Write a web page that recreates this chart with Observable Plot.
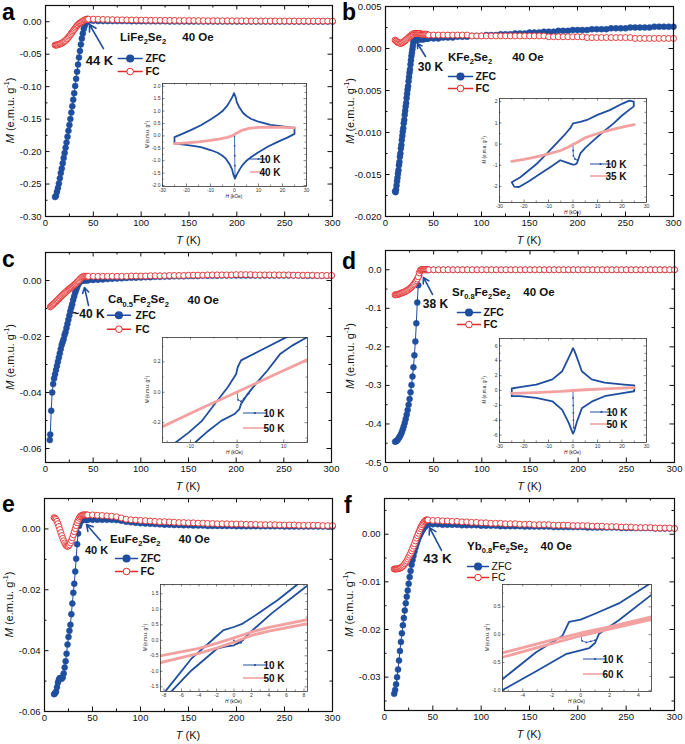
<!DOCTYPE html>
<html><head><meta charset="utf-8">
<script src="https://cdn.jsdelivr.net/npm/d3@7"></script>
<script src="https://cdn.jsdelivr.net/npm/@observablehq/plot@0.6"></script>
<style>
body{margin:0;background:#fff;}
#fig{position:relative;width:685px;height:744px;overflow:hidden;background:#fff;}
#fig svg{position:absolute;overflow:visible;}
</style></head><body><div id="fig"></div>
<script>
// ---------------- DATA ----------------
const tHigh = [50,55,60,65,70,75,80,85,90,95,100,105,110,115,120,125,130,135,140,145,150,155,160,165,170,175,180,185,190,195,200,205,210,215,220,225,230,235,240,245,250,255,260,265,270,275,280,285,290,295,300];
const tLow = [10,11,12,13,14,15,16,17,18,19,20,21,22,23,24,25,26,27,28,29,30,31,32,33,34,35,36,37,38,39,40,41,42,43,44,45];
const tLowBzfc = [10,10.5,11,11.5,12,12.5,13,13.5,14,14.5,15,15.5,16,16.5,17,17.5,18,18.5,19,19.5,20,20.5,21,21.5,22,22.5,23,23.5,24,24.5,25,25.5,26,26.5,27,27.5,28,28.5,29,29.5,30,31,32,33,34,35,36,37,38,39,40,41,42,43,44,45];
const tLowCzfc = [4.5,5,6,7,8,9,10,11,12,13,14,15,16,17,18,19,20,21,22,23,24,25,26,27,28,29,30,31,32,33,34,35,36,37,38,39,40,41,42,43,44,45];
const tLowCfc = [5,6,7,8,9,10,11,12,13,14,15,16,17,18,19,20,21,22,23,24,25,26,27,28,29,30,31,32,33,34,35,36,37,38,39,40,41,42,43,44,45];

// a: LiFe2Se2
const zfcLowA = [-0.270,-0.268,-0.262,-0.256,-0.249,-0.241,-0.233,-0.226,-0.218,-0.210,-0.202,-0.194,-0.186,-0.177,-0.168,-0.159,-0.150,-0.140,-0.130,-0.120,-0.110,-0.099,-0.088,-0.077,-0.066,-0.055,-0.045,-0.035,-0.026,-0.018,-0.011,-0.006,-0.002,0.000,0.001,0.0015];
const zfcHighA = [0.0015,0.001,0.001,0.001,0.001,0.001,0.001,0.001,0.0008,0.0008,0.0008,0.0007,0.0007,0.0006,0.0006,0.0006,0.0005,0.0005,0.0005,0.0005,0.0004,0.0004,0.0004,0.0004,0.0004,0.0004,0.0004,0.0004,0.0004,0.0004,0.0003,0.0003,0.0003,0.0003,0.0003,0.0003,0.0003,0.0003,0.0003,0.0003,0.0002,0.0002,0.0002,0.0002,0.0002,0.0002,0.0002,0.0002,0.0002,0.0002,0.0002];
const fcLowA = [-0.036,-0.036,-0.036,-0.035,-0.035,-0.034,-0.034,-0.033,-0.032,-0.031,-0.030,-0.029,-0.027,-0.026,-0.024,-0.022,-0.020,-0.018,-0.016,-0.014,-0.012,-0.010,-0.008,-0.006,-0.005,-0.003,-0.002,-0.001,0.000,0.001,0.002,0.003,0.003,0.004,0.004,0.004];
const fcHighA = [0.004,0.0038,0.0036,0.0034,0.0032,0.003,0.0029,0.0028,0.0027,0.0026,0.0025,0.0024,0.0023,0.0022,0.0022,0.0021,0.002,0.002,0.0019,0.0019,0.0018,0.0018,0.0017,0.0017,0.0016,0.0016,0.0015,0.0015,0.0015,0.0014,0.0014,0.0014,0.0013,0.0013,0.0013,0.0012,0.0012,0.0012,0.0012,0.0011,0.0011,0.0011,0.0011,0.001,0.001,0.001,0.001,0.001,0.001,0.001,0.001];

// b: KFe2Se2
const zfcLowB = [-0.0170,-0.0171,-0.0168,-0.0163,-0.0158,-0.0154,-0.0149,-0.0145,-0.0139,-0.0135,-0.0129,-0.0125,-0.0119,-0.0115,-0.0109,-0.0104,-0.0099,-0.0095,-0.0089,-0.0085,-0.0079,-0.0074,-0.0069,-0.0065,-0.0059,-0.0054,-0.0049,-0.0045,-0.0039,-0.0034,-0.0029,-0.0025,-0.0019,-0.0014,-0.0009,-0.0005,-0.0001,0.0003,0.0007,0.0009,0.0010,0.0010,0.0010,0.0011,0.0011,0.0011,0.0011,0.0011,0.0011,0.0011,0.0011,0.0012,0.0012,0.0012,0.0012,0.0012];
const zfcHighB = [0.0012,0.0012,0.0013,0.0013,0.0013,0.0014,0.0014,0.0014,0.0015,0.0015,0.0015,0.0016,0.0016,0.0016,0.0017,0.0017,0.0017,0.0018,0.0018,0.0018,0.0019,0.0019,0.0019,0.0020,0.0020,0.0020,0.0021,0.0021,0.0021,0.0022,0.0022,0.0022,0.0022,0.0023,0.0023,0.0023,0.0023,0.0024,0.0024,0.0024,0.0024,0.0025,0.0025,0.0025,0.0025,0.0025,0.0026,0.0026,0.0026,0.0026,0.0026];
const fcLowB = [0.0010,0.0009,0.0008,0.0007,0.0007,0.0006,0.0006,0.0007,0.0007,0.0008,0.0009,0.0010,0.0011,0.0012,0.0013,0.0014,0.0015,0.0016,0.0017,0.0017,0.0018,0.0018,0.0018,0.0018,0.0018,0.0018,0.0018,0.0017,0.0017,0.0017,0.0017,0.0017,0.0017,0.0017,0.0016,0.0016];
const fcHighB = [0.0016,0.0016,0.0016,0.0016,0.0016,0.0016,0.0016,0.0016,0.0015,0.0015,0.0015,0.0015,0.0015,0.0015,0.0015,0.0015,0.0015,0.0015,0.0015,0.0015,0.0015,0.0015,0.0015,0.0015,0.0014,0.0014,0.0014,0.0014,0.0014,0.0014,0.0014,0.0014,0.0013,0.0013,0.0013,0.0013,0.0013,0.0013,0.0013,0.0013,0.0013,0.0013,0.0012,0.0012,0.0012,0.0012,0.0012,0.0012,0.0012,0.0012,0.0012];

// c: Ca0.5Fe2Se2
const zfcLowC = [-0.057,-0.055,-0.0465,-0.040,-0.037,-0.035,-0.0335,-0.032,-0.0305,-0.029,-0.0275,-0.026,-0.0245,-0.023,-0.022,-0.021,-0.0195,-0.0185,-0.017,-0.0155,-0.014,-0.0125,-0.011,-0.0097,-0.0085,-0.007,-0.0057,-0.0045,-0.0035,-0.0025,-0.0016,-0.001,-0.0005,-0.0002,0,0,0,0.0001,0.0001,0.0001,0.0001,0.0001];
const zfcHighC = [0.0002,0.0003,0.0004,0.0005,0.0006,0.0007,0.0008,0.0009,0.001,0.001,0.0011,0.0012,0.0012,0.0013,0.0013,0.0014,0.0014,0.0015,0.0015,0.0015,0.0016,0.0016,0.0016,0.0017,0.0017,0.0017,0.0017,0.0018,0.0018,0.0018,0.0018,0.0018,0.0018,0.0018,0.0018,0.0018,0.0018,0.0018,0.0018,0.0018,0.0018,0.0018,0.0018,0.0018,0.0017,0.0017,0.0017,0.0017,0.0017,0.0017,0.0017];
const fcLowC = [-0.0094,-0.0091,-0.0088,-0.0085,-0.0082,-0.0079,-0.0075,-0.0072,-0.0069,-0.0065,-0.0062,-0.0058,-0.0055,-0.0051,-0.0048,-0.0045,-0.0042,-0.0039,-0.0036,-0.0033,-0.003,-0.0027,-0.0025,-0.0022,-0.0019,-0.0016,-0.0013,-0.001,-0.0006,-0.0003,0.0,0.0004,0.0008,0.0011,0.0013,0.0015,0.0015,0.0015,0.0015,0.0015,0.0015];
const fcHighC = [0.0015,0.0015,0.0015,0.0015,0.0015,0.0015,0.0015,0.0015,0.0016,0.0016,0.0016,0.0016,0.0017,0.0017,0.0017,0.0017,0.0018,0.0018,0.0018,0.0018,0.0019,0.0019,0.0019,0.0019,0.002,0.002,0.002,0.002,0.002,0.002,0.0021,0.0021,0.0021,0.0021,0.002,0.002,0.002,0.002,0.002,0.002,0.002,0.002,0.0019,0.0019,0.0019,0.0019,0.0019,0.0018,0.0018,0.0018,0.0018];

// d: Sr0.8Fe2Se2
const zfcLowD = [-0.446,-0.445,-0.443,-0.440,-0.436,-0.432,-0.427,-0.421,-0.414,-0.406,-0.397,-0.387,-0.376,-0.364,-0.350,-0.335,-0.318,-0.299,-0.277,-0.253,-0.222,-0.186,-0.139,-0.085,-0.040,-0.015,-0.004,0,0,0,0,0,0,0,0,0];
const zfcHighD = [0,0,0,0,0,0,0,0,0,0,0,0,0,0,0,0,0,0,0,0,0,0,0,0,0,0,0,0,0,0,0,0,0,0,0,0,0,0,0,0,0,0,0,0,0,0,0,0,0,0,0];
const fcLowD = [-0.065,-0.065,-0.064,-0.064,-0.063,-0.062,-0.061,-0.060,-0.059,-0.058,-0.057,-0.056,-0.054,-0.053,-0.051,-0.049,-0.047,-0.045,-0.042,-0.039,-0.036,-0.032,-0.028,-0.024,-0.018,-0.008,-0.002,0,0,0,0,0,0,0,0,0];
const fcHighD = [0,0,0,0,0,0,0,0,0,0,0,0,0,0,0,0,0,0,0,0,0,0,0,0,0,0,0,0,0,0,0,0,0,0,0,0,0,0,0,0,0,0,0,0,0,0,0,0,0,0,0];

// e: EuFe2Se2
const zfcLowE = [-0.0543,-0.054,-0.0535,-0.052,-0.0505,-0.0495,-0.049,-0.049,-0.0492,-0.0488,-0.0475,-0.0455,-0.0435,-0.041,-0.038,-0.0355,-0.0335,-0.0315,-0.028,-0.0245,-0.021,-0.018,-0.014,-0.0098,-0.005,-0.0015,0.001,0.002,0.0028,0.003,0.003,0.003,0.003,0.003,0.003,0.003];
const zfcHighE = [0.003,0.003,0.003,0.003,0.003,0.0029,0.0027,0.0024,0.0022,0.002,0.0019,0.0018,0.0017,0.0016,0.0015,0.0014,0.0014,0.0013,0.0013,0.0012,0.0012,0.0011,0.0011,0.0011,0.001,0.001,0.001,0.001,0.001,0.001,0.0009,0.0009,0.0009,0.0009,0.0009,0.0009,0.0009,0.0009,0.0009,0.0009,0.0008,0.0008,0.0008,0.0008,0.0008,0.0008,0.0008,0.0008,0.0008,0.0008,0.0008];
const fcLowE = [0.0037,0.0035,0.0031,0.0025,0.0017,0.0008,-0.0002,-0.0012,-0.0022,-0.0031,-0.0039,-0.0046,-0.0052,-0.0056,-0.0057,-0.0056,-0.0052,-0.0046,-0.0038,-0.0029,-0.0019,-0.0009,0.0001,0.0011,0.002,0.0028,0.0035,0.004,0.0043,0.0045,0.0046,0.0046,0.0046,0.0046,0.0046,0.0046];
const fcHighE = [0.0046,0.0045,0.0044,0.0043,0.0042,0.004,0.0036,0.0032,0.003,0.0029,0.0028,0.0027,0.0026,0.0025,0.0024,0.0024,0.0023,0.0022,0.0021,0.0021,0.002,0.002,0.0019,0.0019,0.0018,0.0018,0.0017,0.0017,0.0017,0.0016,0.0016,0.0016,0.0015,0.0015,0.0015,0.0014,0.0014,0.0014,0.0014,0.0013,0.0013,0.0013,0.0013,0.0012,0.0012,0.0012,0.0012,0.0012,0.0011,0.0011,0.0011];

// f: Yb0.8Fe2Se2
const zfcLowF = [-0.0335,-0.0327,-0.0315,-0.0300,-0.0284,-0.0265,-0.0245,-0.0226,-0.0208,-0.0191,-0.0176,-0.0160,-0.0145,-0.0131,-0.0118,-0.0104,-0.0090,-0.0077,-0.0064,-0.0054,-0.0045,-0.0036,-0.0028,-0.0021,-0.0015,-0.0009,-0.0004,0.0,0.0004,0.0008,0.0011,0.0014,0.0016,0.0019,0.0021,0.0021];
const zfcHighF = [0.0021,0.0021,0.002,0.002,0.002,0.002,0.0019,0.0019,0.0019,0.0019,0.0018,0.0018,0.0018,0.0018,0.0017,0.0017,0.0017,0.0017,0.0017,0.0016,0.0016,0.0016,0.0016,0.0016,0.0016,0.0015,0.0015,0.0015,0.0015,0.0015,0.0015,0.0015,0.0014,0.0014,0.0014,0.0014,0.0014,0.0014,0.0014,0.0013,0.0013,0.0013,0.0013,0.0013,0.0013,0.0013,0.0012,0.0012,0.0012,0.0012,0.0012];
const fcLowF = [-0.0073,-0.0073,-0.0073,-0.0073,-0.0072,-0.0072,-0.0071,-0.0070,-0.0069,-0.0067,-0.0065,-0.0062,-0.0059,-0.0056,-0.0052,-0.0048,-0.0044,-0.004,-0.0035,-0.003,-0.0025,-0.002,-0.0014,-0.0008,-0.0003,0.0002,0.0007,0.0012,0.0016,0.002,0.0023,0.0026,0.0028,0.003,0.003,0.003];
const fcHighF = [0.0029,0.0029,0.0028,0.0028,0.0027,0.0027,0.0026,0.0026,0.0025,0.0025,0.0024,0.0024,0.0023,0.0023,0.0023,0.0022,0.0022,0.0022,0.0021,0.0021,0.0021,0.002,0.002,0.002,0.002,0.0019,0.0019,0.0019,0.0019,0.0018,0.0018,0.0018,0.0018,0.0017,0.0017,0.0017,0.0016,0.0016,0.0016,0.0015,0.0015,0.0015,0.0014,0.0014,0.0014,0.0014,0.0013,0.0013,0.0013,0.0013,0.0012];

// tick values (main panels)
const xTicksMain = [0,50,100,150,200,250,300];
const xMinorMain = [25,75,125,175,225,275];
const yTicksA = [-0.30,-0.25,-0.20,-0.15,-0.10,-0.05,0.00], yMinorA = [-0.275,-0.225,-0.175,-0.125,-0.075,-0.025];
const yTicksB = [-0.020,-0.015,-0.010,-0.005,0.000,0.005], yMinorB = [-0.0175,-0.0125,-0.0075,-0.0025,0.0025];
const yTicksC = [-0.06,-0.04,-0.02,0.00], yMinorC = [-0.05,-0.03,-0.01];
const yTicksD = [-0.5,-0.4,-0.3,-0.2,-0.1,0.0], yMinorD = [-0.45,-0.35,-0.25,-0.15,-0.05];
const yTicksE = [-0.06,-0.04,-0.02,0.00], yMinorE = [-0.05,-0.03,-0.01];
const yTicksF = [-0.03,-0.02,-0.01,0.00], yMinorF = [-0.035,-0.025,-0.015,-0.005,0.005];

// inset M(H) loops: 10 K (ascending branch then descending branch), virgin curve, higher-T curve
const loopAH = [-25,-22,-18,-14,-10,-7,-5,-3.5,-2,-1,-0.5,0.2,0.5,1,2,3,5,7,10,14,18,22,25, 25,24,20,15,10,7,5,3.5,2,1,0.5,-0.2,-0.5,-1,-2,-3,-5,-7,-10,-14,-18,-22,-25,-25];
const loopAM = [-0.31,-0.34,-0.39,-0.45,-0.57,-0.68,-0.8,-0.93,-1.15,-1.35,-1.55,-1.72,-1.65,-1.55,-1.38,-1.22,-1.0,-0.85,-0.66,-0.43,-0.24,-0.07,0.08, 0.33,0.33,0.38,0.44,0.57,0.68,0.8,0.93,1.15,1.35,1.55,1.72,1.65,1.55,1.38,1.22,1.0,0.85,0.66,0.43,0.24,0.07,-0.05,-0.31];
const virAH = [0,0.05,0.1,0.15,0.2], virAM = [0,-0.4,-0.8,-1.2,-1.6];
const redAH = [-25,-20,-15,-10,-6,-3,-1,0,1,3,6,10,15,20,25];
const redAM = [-0.31,-0.28,-0.24,-0.18,-0.12,-0.06,0.0,0.06,0.12,0.22,0.3,0.34,0.35,0.34,0.32];

const loopBH = [-25,-24,-22,-18,-13.4,-9,-5.2,-3,-1,0,1,1.6,3,5,8.5,12,16.6,20,24.8, 24.8,23,20,15,10,5.7,3,1,0,-1.1,-3,-5,-10.6,-15,-21.5,-25];
const loopBM = [-1.8,-2.0,-2.02,-1.75,-1.4,-1.06,-0.76,-0.85,-0.93,-0.97,-0.95,-0.9,-0.44,-0.18,0.19,0.55,0.98,1.35,1.78, 2.0,2.05,1.9,1.6,1.38,1.14,1.05,1.0,0.98,0.75,0.5,0.25,-0.44,-0.95,-1.56,-1.8];
const virBH = [0,0.05,0.15,0.8,1.8], virBM = [0,-0.3,-0.55,-0.7,-0.75];
const redBH = [-25,-20,-15,-10,-5,-2,0,2,5,10,15,20,25];
const redBM = [-0.81,-0.72,-0.6,-0.46,-0.3,-0.15,-0.02,0.1,0.3,0.5,0.66,0.8,0.92];

const loopCH = [-17,-13,-9,-6.2,-3.4,-0.56,0.5,0.85,2.25,3.7,6.5,9.3,12,15.5, 15.5,10.7,5.1,0.85,0.14,-0.2,-2,-4.8,-7.6,-10.4,-13.2,-17];
const loopCM = [-0.5,-0.42,-0.33,-0.254,-0.188,-0.143,-0.11,-0.077,-0.011,0.044,0.143,0.254,0.31,0.37, 0.46,0.364,0.276,0.21,0.166,0.12,0.033,-0.077,-0.19,-0.265,-0.33,-0.41];
const virCH = [0,0.2,0.8,1.5,2.5,3.7], virCM = [0,-0.05,-0.06,-0.04,-0.01,0.044];
const redCH = [-17,-8,0,8,15.5], redCM = [-0.24,-0.11,0.002,0.115,0.22];

const loopDH = [-25,-21.7,-15,-8.4,-4.4,-1.7,-0.5,0,0.5,1.6,3.6,7.6,12.9,20.9,25, 25,20.9,12.9,7.6,3.6,1.6,0.5,0,-0.5,-1.7,-4.4,-8.4,-15,-21.7,-25,-25];
const loopDM = [-0.77,-0.77,-1.0,-1.45,-2.6,-4.4,-5.4,-5.8,-5.5,-4.2,-2.4,-1.5,-0.77,-0.32,-0.1, 0.7,0.8,1.05,1.5,2.6,4.45,5.4,5.7,5.3,4.45,2.6,1.5,0.8,0.45,0.27,-0.77];
const virDH = [0,0.05,0.1,0.15,0.2,0.3], virDM = [0,-1,-2,-3,-4,-5];
const redDH = [-25,-15,-5,0,5,15,25], redDM = [-0.4,-0.28,-0.12,0.0,0.1,0.25,0.38];

const loopEH = [-9,-7.1,-4.9,-1.95,-1,0,1,1.7,4.3,8,9, 9,7.2,5,2.8,1,0,-1.2,-2,-4.9,-7.8,-9];
const loopEM = [-2.05,-1.63,-0.98,-0.27,-0.2,-0.16,0.0,0.22,0.87,1.68,1.9, 2.2,1.79,1.3,0.87,0.54,0.43,0.33,0.13,-0.6,-1.63,-1.95];
const virEH = [0,0.3,0.8,1.3], virEM = [0,-0.12,-0.08,0.1];
const redEH = [-9,-4,-2,0,2,4,9, 9,4,2,0,-2,-4,-9];
const redEM = [-0.76,-0.42,-0.25,-0.06,0.16,0.3,0.57, 0.7,0.42,0.27,0.08,-0.1,-0.26,-0.53];

const loopFH = [-5.6,-5.36,-3.1,-1.03,0,0.6,1.0,1.26,2.64,4.87,5.5, 5.5,4.7,2.64,1.03,0,-0.8,-1.26,-3.1,-5.36,-5.6];
const loopFM = [-1.03,-0.99,-0.66,-0.35,-0.28,-0.24,-0.15,0.01,0.26,0.71,0.82, 1.05,0.9,0.56,0.38,0.27,0.23,-0.02,-0.32,-0.79,-0.84];
const virFH = [0,0.1,0.4,0.7,1.0], virFM = [0,-0.11,-0.14,-0.12,-0.1];
const redFH = [-5.6,-2,0,2,5.5, 5.5,2,0,-2,-5.6];
const redFM = [-0.42,-0.16,-0.02,0.1,0.31, 0.36,0.14,0.03,-0.1,-0.34];

// ---------------- RENDER ----------------
const FONT = "'Liberation Sans', Arial, Helvetica, sans-serif";
const BLUE = "#1f4e9e", RED = "#e42a2a", PINK = "#f3a0a0", PINKL = "#e86a6a";
const fig = document.getElementById("fig");

function pairs(xs, ys, kx, ky) {
  const n = Math.min(xs.length, ys.length), out = [];
  for (let i = 0; i < n; i++) out.push({[kx]: xs[i], [ky]: ys[i]});
  return out;
}
function place(svg, left, top) { svg.style.left = left + "px"; svg.style.top = top + "px"; fig.appendChild(svg); }
function rich(svg, x, y, parts, o = {}) {
  const size = o.size || 11, weight = o.weight || "bold";
  const t = d3.select(svg).append("text").attr("x", x).attr("y", y)
    .attr("font-family", FONT).attr("font-size", size).attr("font-weight", weight)
    .attr("text-anchor", o.anchor || "start").attr("fill", "#111");
  if (o.rotate) t.attr("transform", `rotate(-90 ${x} ${y})`);
  let shift = 0;
  for (const [s, kind] of parts) {
    const ts = t.append("tspan").text(s);
    const target = kind === "sub" ? size * 0.28 : kind === "sup" ? -size * 0.42 : 0;
    if (target !== shift) { ts.attr("dy", target - shift); shift = target; }
    if (kind === "sub" || kind === "sup") ts.attr("font-size", size * 0.65);
    if (kind === "i") ts.attr("font-style", "italic");
  }
  return t;
}
const mLabel = [["M", "i"], [" (e.m.u. g"], ["-1", "sup"], [")"]];

const ML = 45, MR = 8, MT = 10, MB = 34;
function mainPanel(p) {
  const fw = p.fr - p.fl, fh = p.fb - p.ft;
  const zfc = pairs(p.zfcT, p.zfcM, "T", "M"), fc = pairs(p.fcT, p.fcM, "T", "M");
  const L = p.leg, mid = (L.x1 + L.x2) / 2;
  const tk = "#111";
  const svg = Plot.plot({
    width: fw + ML + MR, height: fh + MT + MB,
    marginLeft: ML, marginRight: MR, marginTop: MT, marginBottom: MB,
    x: {domain: [0, 300]}, y: {domain: p.yDomain},
    style: {fontFamily: FONT, fontSize: "9.5px", color: "#111", background: "transparent", overflow: "visible"},
    marks: [
      Plot.tickX(xTicksMain, {x: d => d, insetTop: fh - 4.5, stroke: tk}),
      Plot.tickX(xTicksMain, {x: d => d, insetBottom: fh - 4.5, stroke: tk}),
      Plot.tickX(xMinorMain, {x: d => d, insetTop: fh - 2.5, stroke: tk}),
      Plot.tickX(xMinorMain, {x: d => d, insetBottom: fh - 2.5, stroke: tk}),
      Plot.tickY(p.yTicks, {y: d => d, insetRight: fw - 4.5, stroke: tk}),
      Plot.tickY(p.yTicks, {y: d => d, insetLeft: fw - 4.5, stroke: tk}),
      Plot.tickY(p.yMinor, {y: d => d, insetRight: fw - 2.5, stroke: tk}),
      Plot.tickY(p.yMinor, {y: d => d, insetLeft: fw - 2.5, stroke: tk}),
      Plot.axisX(xTicksMain, {tickSize: 0, tickPadding: 3, tickFormat: d => String(d), label: null}),
      Plot.axisY(p.yTicks, {tickSize: 0, tickPadding: 4, tickFormat: p.yFmt, label: null}),
      Plot.line(zfc, {x: "T", y: "M", stroke: BLUE, strokeWidth: 1}),
      Plot.dot(zfc, {x: "T", y: "M", r: 3, fill: BLUE, stroke: BLUE, strokeWidth: 0.5}),
      Plot.line(fc, {x: "T", y: "M", stroke: RED, strokeWidth: 1}),
      Plot.dot(fc, {x: "T", y: "M", r: 3, fill: "white", stroke: RED, strokeWidth: 0.9}),
      Plot.frame({stroke: "#111", strokeWidth: 1.2}),
      Plot.arrow([p.arrow], {x1: "x1", y1: "y1", x2: "x2", y2: "y2", stroke: BLUE, strokeWidth: 1.6, headLength: 7}),
      Plot.line([{T: L.x1, M: L.yZ}, {T: L.x2, M: L.yZ}], {x: "T", y: "M", stroke: BLUE, strokeWidth: 1.5}),
      Plot.dot([{T: mid, M: L.yZ}], {x: "T", y: "M", r: 3.3, fill: BLUE, stroke: BLUE}),
      Plot.line([{T: L.x1, M: L.yF}, {T: L.x2, M: L.yF}], {x: "T", y: "M", stroke: RED, strokeWidth: 1.5}),
      Plot.dot([{T: mid, M: L.yF}], {x: "T", y: "M", r: 3.3, fill: "white", stroke: RED, strokeWidth: 1}),
      Plot.text(["ZFC"], {x: L.tx, y: L.yZ, text: d => d, textAnchor: "start", fontSize: 10.5, fontWeight: p.legBold ? "bold" : "normal", fill: "#111"}),
      Plot.text(["FC"], {x: L.tx, y: L.yF, text: d => d, textAnchor: "start", fontSize: 10.5, fontWeight: p.legBold ? "bold" : "normal", fill: "#111"}),
      Plot.text([p.tc], {x: p.tcPos[0], y: p.tcPos[1], text: d => d, fontSize: p.tcSize, fontWeight: "bold", fill: "#111"}),
      Plot.text(["40 Oe"], {x: p.oeX, y: p.fPos[1], text: d => d, textAnchor: "start", fontSize: 11.5, fontWeight: "bold", fill: "#111"})
    ]
  });
  const sx = svg.scale("x"), sy = svg.scale("y");
  rich(svg, sx.apply(p.fPos[0]), sy.apply(p.fPos[1]) + 4, p.formula, {size: 11.5});
  rich(svg, ML - 31, MT + fh / 2, mLabel, {size: 11, weight: "normal", anchor: "middle", rotate: true});
  rich(svg, ML + fw / 2, MT + fh + 28, [["T", "i"], [" (K)"]], {size: 11, weight: "normal", anchor: "middle"});
  place(svg, p.fl - ML, p.ft - MT);
}

const IML = 20, IMR = 4, IMT = 3, IMB = 14;
function insetPanel(q) {
  const fw = q.fr - q.fl, fh = q.fb - q.ft;
  const loop = pairs(q.loopH, q.loopM, "H", "M"), vir = pairs(q.virH, q.virM, "H", "M"), red = pairs(q.redH, q.redM, "H", "M");
  const tk = "#333";
  const svg = Plot.plot({
    width: fw + IML + IMR, height: fh + IMT + IMB,
    marginLeft: IML, marginRight: IMR, marginTop: IMT, marginBottom: IMB,
    x: {domain: q.xDomain}, y: {domain: q.yDomain},
    style: {fontFamily: FONT, fontSize: "5px", color: "#333", background: "transparent", overflow: "visible"},
    marks: [
      Plot.frame({fill: "white", stroke: null}),
      Plot.tickX(q.xTicks, {x: d => d, insetTop: fh - 2.5, stroke: tk, strokeWidth: 0.6}),
      Plot.tickX(q.xTicks, {x: d => d, insetBottom: fh - 2.5, stroke: tk, strokeWidth: 0.6}),
      Plot.tickX(q.xMinor, {x: d => d, insetTop: fh - 1.5, stroke: tk, strokeWidth: 0.6}),
      Plot.tickX(q.xMinor, {x: d => d, insetBottom: fh - 1.5, stroke: tk, strokeWidth: 0.6}),
      Plot.tickY(q.yTicks, {y: d => d, insetRight: fw - 2.5, stroke: tk, strokeWidth: 0.6}),
      Plot.tickY(q.yTicks, {y: d => d, insetLeft: fw - 2.5, stroke: tk, strokeWidth: 0.6}),
      Plot.tickY(q.yMinor, {y: d => d, insetRight: fw - 1.5, stroke: tk, strokeWidth: 0.6}),
      Plot.tickY(q.yMinor, {y: d => d, insetLeft: fw - 1.5, stroke: tk, strokeWidth: 0.6}),
      Plot.axisX(q.xTicks, {tickSize: 0, tickPadding: 2, tickFormat: q.xFmt, label: null}),
      Plot.axisY(q.yTicks, {tickSize: 0, tickPadding: 2, tickFormat: q.yFmt, label: null}),
      Plot.line(loop, {x: "H", y: "M", stroke: BLUE, strokeWidth: 1.8, clip: true}),
      Plot.line(vir, {x: "H", y: "M", stroke: BLUE, strokeWidth: 0.8, clip: true}),
      Plot.dot(vir, {x: "H", y: "M", r: 0.9, fill: BLUE, clip: true}),
      Plot.line(red, {x: "H", y: "M", stroke: PINK, strokeWidth: 2.8, clip: true}),
      Plot.frame({stroke: "#333", strokeWidth: 0.8})
    ]
  });
  const g = d3.select(svg), ox = q.fl - IML, oy = q.ft - IMT, L = q.leg;
  [[L.y1, BLUE, "10 K", true], [L.y2, PINKL, q.redLabel, false]].forEach(([y, col, lab, dot]) => {
    g.append("line").attr("x1", L.x1 - ox).attr("x2", L.x2 - ox).attr("y1", y - oy).attr("y2", y - oy)
      .attr("stroke", col).attr("stroke-width", 1);
    if (dot) g.append("circle").attr("cx", (L.x1 + L.x2) / 2 - ox).attr("cy", y - oy).attr("r", 1.1).attr("fill", col);
    g.append("text").attr("x", L.tx - ox).attr("y", y - oy + 3.6).text(lab)
      .attr("font-family", FONT).attr("font-size", 10).attr("font-weight", "bold").attr("fill", "#111");
  });
  rich(svg, IML - 13, IMT + fh / 2, mLabel, {size: 4.6, weight: "normal", anchor: "middle", rotate: true});
  rich(svg, IML + fw / 2, IMT + fh + 12, [["H", "i"], [" (kOe)"]], {size: 4.8, weight: "normal", anchor: "middle"});
  place(svg, ox, oy);
}

const f2 = d => d.toFixed(2), f3 = d => d.toFixed(3), f1 = d => d.toFixed(1), fi = d => String(d);

const panels = [
  {fl: 45, fr: 332, ft: 5, fb: 216, yDomain: [-0.30, 0.025], yTicks: yTicksA, yMinor: yMinorA, yFmt: f2,
   zfcT: tLow.concat(tHigh), zfcM: zfcLowA.concat(zfcHighA), fcT: tLow.concat(tHigh), fcM: fcLowA.concat(fcHighA),
   formula: [["LiFe"], ["2", "sub"], ["Se"], ["2", "sub"]], fPos: [78.4, -0.0243], oeX: 143,
   tc: "44 K", tcPos: [56.4, -0.060], tcSize: 13, arrow: {x1: 60.6, y1: -0.0413, x2: 46, y2: -0.0043},
   leg: {x1: 76, x2: 101, yZ: -0.0567, yF: -0.0767, tx: 104.5}, legBold: true},
  {fl: 385, fr: 673, ft: 6, fb: 216, yDomain: [-0.020, 0.005], yTicks: yTicksB, yMinor: yMinorB, yFmt: f3,
   zfcT: tLowBzfc.concat(tHigh), zfcM: zfcLowB.concat(zfcHighB), fcT: tLow.concat(tHigh), fcM: fcLowB.concat(fcHighB),
   formula: [["KFe"], ["2", "sub"], ["Se"], ["2", "sub"]], fPos: [65.6, -0.00107], oeX: 132,
   tc: "30 K", tcPos: [46.9, -0.00226], tcSize: 12, arrow: {x1: 41.7, y1: -0.00095, x2: 33.3, y2: 0.0006},
   leg: {x1: 65.6, x2: 90.6, yZ: -0.00333, yF: -0.00476, tx: 93.8}, legBold: true},
  {fl: 45, fr: 331, ft: 252, fb: 462, yDomain: [-0.065, 0.01], yTicks: yTicksC, yMinor: yMinorC, yFmt: f2,
   zfcT: tLowCzfc.concat(tHigh), zfcM: zfcLowC.concat(zfcHighC), fcT: tLowCfc.concat(tHigh), fcM: fcLowC.concat(fcHighC),
   formula: [["Ca"], ["0.5", "sub"], ["Fe"], ["2", "sub"], ["Se"], ["2", "sub"]], fPos: [66, -0.0069], oeX: 149,
   tc: "~40 K", tcPos: [45, -0.01214], tcSize: 12, arrow: {x1: 45.1, y1: -0.0089, x2: 40.9, y2: -0.0025},
   leg: {x1: 65, x2: 89, yZ: -0.0124, yF: -0.0174, tx: 94.4}, legBold: true},
  {fl: 385, fr: 674, ft: 250, fb: 462, yDomain: [-0.5, 0.05], yTicks: yTicksD, yMinor: yMinorD, yFmt: f1,
   zfcT: tLow.concat(tHigh), zfcM: zfcLowD.concat(zfcHighD), fcT: tLow.concat(tHigh), fcM: fcLowD.concat(fcHighD),
   formula: [["Sr"], ["0.8", "sub"], ["Fe"], ["2", "sub"], ["Se"], ["2", "sub"]], fPos: [69.6, -0.0589], oeX: 143,
   tc: "38 K", tcPos: [51.9, -0.090], tcSize: 12, arrow: {x1: 48.8, y1: -0.064, x2: 39.4, y2: -0.020},
   leg: {x1: 74.7, x2: 98.6, yZ: -0.1108, yF: -0.142, tx: 101.7}, legBold: true},
  {fl: 44, fr: 332, ft: 498, fb: 711, yDomain: [-0.06, 0.01], yTicks: yTicksE, yMinor: yMinorE, yFmt: f2,
   zfcT: tLow.concat(tHigh), zfcM: zfcLowE.concat(zfcHighE), fcT: tLow.concat(tHigh), fcM: fcLowE.concat(fcHighE),
   formula: [["EuFe"], ["2", "sub"], ["Se"], ["2", "sub"]], fPos: [68.75, -0.00348], oeX: 139.6,
   tc: "40 K", tcPos: [54.2, -0.0071], tcSize: 11, arrow: {x1: 58.3, y1: -0.0038, x2: 43.75, y2: 0.00145},
   leg: {x1: 74, x2: 96.9, yZ: -0.00973, yF: -0.014, tx: 100}, legBold: true},
  {fl: 384, fr: 674, ft: 498, fb: 710, yDomain: [-0.037, 0.0075], yTicks: yTicksF, yMinor: yMinorF, yFmt: f2,
   zfcT: tLow.concat(tHigh), zfcM: zfcLowF.concat(zfcHighF), fcT: tLow.concat(tHigh), fcM: fcLowF.concat(fcHighF),
   formula: [["Yb"], ["0.8", "sub"], ["Fe"], ["2", "sub"], ["Se"], ["2", "sub"]], fPos: [85.9, -0.00258], oeX: 161.4,
   tc: "43 K", tcPos: [54.8, -0.0051], tcSize: 13.5, arrow: {x1: 59, y1: -0.0034, x2: 46.6, y2: 0.0014},
   leg: {x1: 85.9, x2: 107.6, yZ: -0.00678, yF: -0.00909, tx: 110.7}, legBold: false}
];

const insets = [
  {fl: 162, fr: 306, ft: 83, fb: 186, xDomain: [-30, 30], yDomain: [-2.04, 2.11],
   xTicks: [-30,-20,-10,0,10,20,30], xMinor: [-25,-15,-5,5,15,25], yTicks: [-2,-1.5,-1,-0.5,0,0.5,1,1.5,2], yMinor: [-1.75,-1.25,-0.75,-0.25,0.25,0.75,1.25,1.75],
   xFmt: fi, yFmt: f1, loopH: loopAH, loopM: loopAM, virH: virAH, virM: virAM, redH: redAH, redM: redAM,
   redLabel: "40 K", leg: {x1: 250, x2: 267, tx: 270, y1: 159, y2: 172}},
  {fl: 499, fr: 646, ft: 98, fb: 202, xDomain: [-30, 30], yDomain: [-2.75, 2.15],
   xTicks: [-30,-20,-10,0,10,20,30], xMinor: [-25,-15,-5,5,15,25], yTicks: [-2,-1,0,1,2], yMinor: [-2.5,-1.5,-0.5,0.5,1.5],
   xFmt: fi, yFmt: fi, loopH: loopBH, loopM: loopBM, virH: virBH, virM: virBM, redH: redBH, redM: redBM,
   redLabel: "35 K", leg: {x1: 590, x2: 611, tx: 616, y1: 164, y2: 176}},
  {fl: 162, fr: 307, ft: 337, fb: 442, xDomain: [-16, 15.1], yDomain: [-0.33, 0.36],
   xTicks: [-10,0,10], xMinor: [-15,-5,5,15], yTicks: [-0.2,0,0.2], yMinor: [-0.3,-0.1,0.1,0.3],
   xFmt: fi, yFmt: f1, loopH: loopCH, loopM: loopCM, virH: virCH, virM: virCM, redH: redCH, redM: redCM,
   redLabel: "50 K", leg: {x1: 243, x2: 267, tx: 274, y1: 413, y2: 428}},
  {fl: 499, fr: 646, ft: 338, fb: 442, xDomain: [-30, 30], yDomain: [-7, 7],
   xTicks: [-30,-20,-10,0,10,20,30], xMinor: [-25,-15,-5,5,15,25], yTicks: [-6,-4,-2,0,2,4,6], yMinor: [-5,-3,-1,1,3,5],
   xFmt: fi, yFmt: fi, loopH: loopDH, loopM: loopDM, virH: virDH, virM: virDM, redH: redDH, redM: redDM,
   redLabel: "50 K", leg: {x1: 590, x2: 613, tx: 617, y1: 412, y2: 424}},
  {fl: 160, fr: 307, ft: 584, fb: 691, xDomain: [-8.4, 8.4], yDomain: [-1.65, 1.8],
   xTicks: [-8,-6,-4,-2,0,2,4,6,8], xMinor: [-7,-5,-3,-1,1,3,5,7], yTicks: [-1.5,-1,-0.5,0,0.5,1,1.5], yMinor: [-1.25,-0.75,-0.25,0.25,0.75,1.25],
   xFmt: fi, yFmt: f1, loopH: loopEH, loopM: loopEM, virH: virEH, virM: virEM, redH: redEH, redM: redEM,
   redLabel: "50 K", leg: {x1: 243, x2: 267, tx: 274, y1: 665, y2: 678}},
  {fl: 502, fr: 651, ft: 584, fb: 691, xDomain: [-5.4, 4.9], yDomain: [-1.02, 0.9],
   xTicks: [-4,-2,0,2,4], xMinor: [-5,-3,-1,1,3], yTicks: [-1,-0.5,0,0.5], yMinor: [-0.75,-0.25,0.25,0.75],
   xFmt: fi, yFmt: f1, loopH: loopFH, loopM: loopFM, virH: virFH, virM: virFM, redH: redFH, redM: redFM,
   redLabel: "60 K", leg: {x1: 583, x2: 607, tx: 613, y1: 659, y2: 674}}
];

panels.forEach(mainPanel);
insets.forEach(insetPanel);

// panel letters
const letters = d3.select(fig).append("svg").attr("width", 685).attr("height", 744).style("left", "0px").style("top", "0px").style("pointer-events", "none");
[["a", 2, 20], ["b", 342, 20], ["c", 2, 267], ["d", 342, 269], ["e", 2, 512], ["f", 344, 513]].forEach(([s, x, y]) => {
  letters.append("text").attr("x", x).attr("y", y).text(s).attr("font-family", FONT).attr("font-weight", "bold").attr("font-size", 23).attr("fill", "#000");
});
</script></body></html>
